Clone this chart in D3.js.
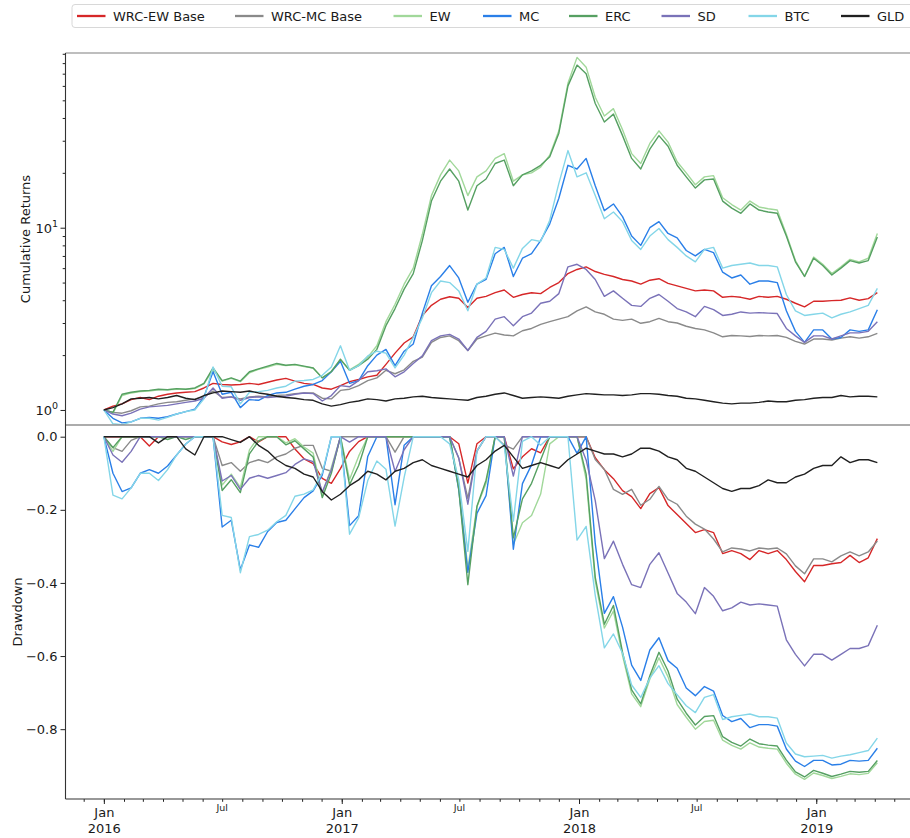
<!DOCTYPE html>
<html>
<head>
<meta charset="utf-8">
<script src="https://cdn.jsdelivr.net/npm/d3@7"></script>
<style>
body { margin: 0; background: #fff; }
text { font-family: "DejaVu Sans", sans-serif; fill: #1a1a1a; }
</style>
</head>
<body>
<svg id="chart"></svg>
<script>
// cumulative returns, one value every 14 days from 2016-01-01
var names = ["WRC-EW Base", "WRC-MC Base", "EW", "MC", "ERC", "SD", "BTC", "GLD"];
var colors = ["#d62728", "#8a8a8a", "#a1d89a", "#2a7fe8", "#56a062", "#7a72b8", "#84d6e8", "#202020"];

var wrcEw = [1.00,1.05,1.08,1.14,1.17,1.14,1.19,1.22,1.24,1.25,
	1.26,1.32,1.40,1.38,1.37,1.38,1.40,1.38,1.42,1.46,
	1.49,1.44,1.40,1.38,1.32,1.30,1.36,1.43,1.47,1.52,
	1.55,1.78,2.05,2.33,2.52,3.30,3.75,4.05,4.18,4.10,
	3.65,4.10,4.20,4.40,4.55,4.15,4.30,4.40,4.35,4.70,
	5.00,5.60,5.90,6.10,5.75,5.55,5.40,5.20,5.10,4.90,
	5.15,5.25,4.95,4.80,4.65,4.50,4.55,4.50,4.15,4.20,
	4.15,4.05,4.20,4.15,4.20,4.05,3.85,3.68,3.95,3.95,
	3.98,4.00,4.12,4.00,4.08,4.40];
var wrcMc = [1.00,0.97,0.96,0.99,1.04,1.05,1.08,1.10,1.11,1.13,
	1.15,1.18,1.27,1.17,1.18,1.15,1.18,1.19,1.18,1.20,
	1.21,1.23,1.24,1.24,1.16,1.15,1.28,1.30,1.36,1.45,
	1.50,1.65,1.58,1.66,1.85,1.95,2.35,2.50,2.55,2.40,
	2.12,2.45,2.55,2.64,2.58,2.55,2.72,2.80,2.95,3.05,
	3.15,3.25,3.50,3.68,3.45,3.35,3.15,3.10,3.15,2.99,
	3.05,3.18,3.05,3.00,2.88,2.80,2.75,2.65,2.52,2.56,
	2.55,2.53,2.56,2.55,2.56,2.50,2.38,2.30,2.45,2.45,
	2.42,2.48,2.52,2.48,2.52,2.63];
var ew = [1.00,0.96,1.20,1.24,1.26,1.27,1.29,1.29,1.30,1.30,
	1.31,1.39,1.66,1.44,1.49,1.43,1.60,1.67,1.72,1.78,
	1.75,1.77,1.73,1.70,1.50,1.63,1.88,1.66,1.78,1.95,
	2.25,3.05,3.80,4.90,6.00,9.20,15.0,19.5,23.5,20.5,
	15.0,19.0,20.5,24.0,25.5,18.0,19.5,20.0,21.5,25.0,
	34.0,62.0,86.0,76.0,52.0,41.0,45.0,34.5,25.5,22.5,
	29.0,34.0,29.5,23.0,20.0,17.2,19.0,19.3,14.6,13.4,
	12.5,14.0,13.0,12.7,12.5,9.2,6.6,5.4,6.9,6.3,
	5.6,6.1,6.7,6.5,6.8,9.3];
var mc = [1.00,0.90,0.85,0.86,0.90,0.91,0.90,0.92,0.95,0.98,
	1.01,1.18,1.62,1.22,1.25,1.03,1.14,1.13,1.20,1.24,
	1.25,1.30,1.35,1.38,1.45,1.62,1.85,1.40,1.45,1.75,
	2.00,2.15,1.75,2.10,2.30,3.40,4.80,5.40,6.20,5.30,
	3.90,4.90,5.20,7.20,7.80,5.40,6.80,7.20,8.50,10.5,
	14.5,22.0,21.0,24.0,17.0,12.4,13.5,11.5,9.0,8.0,
	10.0,10.8,9.3,8.8,7.5,7.0,7.6,7.3,5.7,5.3,
	5.5,4.9,5.1,5.1,5.0,3.5,2.7,2.35,2.75,2.75,
	2.45,2.5,2.75,2.7,2.75,3.55];
var erc = [1.00,0.97,1.22,1.25,1.27,1.28,1.30,1.29,1.31,1.30,
	1.32,1.40,1.70,1.45,1.50,1.44,1.62,1.68,1.74,1.80,
	1.76,1.78,1.74,1.70,1.50,1.62,1.90,1.65,1.75,1.90,
	2.15,2.90,3.60,4.60,5.60,8.50,14.0,18.0,21.0,18.0,
	12.5,17.0,18.5,22.5,23.5,17.0,19.5,20.5,22.0,24.5,
	33.0,60.0,78.0,70.0,48.0,38.0,42.0,32.0,24.0,21.0,
	27.0,32.0,28.0,22.0,19.0,16.5,18.3,18.5,14.0,12.8,
	12.0,13.5,12.5,12.2,12.0,9.0,6.5,5.4,6.8,6.2,
	5.5,6.0,6.6,6.4,6.6,8.9];
var sd = [1.00,0.95,0.93,0.96,1.01,1.04,1.05,1.06,1.08,1.10,
	1.12,1.16,1.32,1.16,1.18,1.13,1.17,1.18,1.17,1.18,
	1.19,1.22,1.24,1.23,1.12,1.20,1.36,1.34,1.45,1.62,
	1.64,1.68,1.52,1.62,1.80,1.98,2.40,2.55,2.60,2.45,
	2.12,2.50,2.70,3.15,3.25,2.90,3.25,3.40,3.85,3.95,
	4.35,6.10,6.30,5.90,5.20,4.20,4.50,4.10,3.75,3.70,
	4.10,4.30,3.95,3.60,3.45,3.25,3.70,3.55,3.30,3.35,
	3.45,3.40,3.42,3.40,3.38,2.80,2.55,2.35,2.55,2.55,
	2.45,2.55,2.65,2.65,2.70,3.05];
var btc = [1.00,0.84,0.83,0.86,0.90,0.90,0.88,0.91,0.95,0.98,
	1.00,1.15,1.72,1.35,1.34,1.08,1.25,1.26,1.28,1.32,
	1.35,1.44,1.45,1.47,1.55,1.72,2.25,1.65,1.75,1.98,
	2.10,2.05,1.70,2.00,2.50,3.20,4.40,5.10,5.00,4.50,
	3.50,4.90,5.30,7.80,7.60,6.00,7.70,8.60,8.40,11.0,
	17.5,26.5,19.0,20.0,15.0,11.2,12.2,10.8,8.5,7.6,
	9.0,9.9,8.6,7.8,7.0,6.5,7.6,7.8,6.0,6.2,
	6.3,6.4,6.2,6.2,6.1,4.3,3.5,3.3,3.35,3.4,
	3.2,3.35,3.45,3.6,3.75,4.65];
var gld = [1.00,1.03,1.08,1.15,1.16,1.17,1.15,1.17,1.20,1.16,
	1.14,1.20,1.24,1.27,1.26,1.25,1.27,1.24,1.22,1.19,
	1.17,1.16,1.14,1.13,1.08,1.05,1.07,1.10,1.12,1.15,
	1.14,1.12,1.15,1.16,1.18,1.19,1.17,1.16,1.15,1.14,
	1.13,1.17,1.19,1.22,1.24,1.20,1.16,1.17,1.18,1.17,
	1.16,1.19,1.21,1.23,1.22,1.21,1.21,1.20,1.21,1.23,
	1.23,1.22,1.20,1.19,1.16,1.15,1.13,1.11,1.09,1.08,
	1.09,1.09,1.10,1.12,1.11,1.11,1.13,1.14,1.16,1.17,
	1.17,1.20,1.18,1.19,1.19,1.18];

var series = [wrcEw, wrcMc, ew, mc, erc, sd, btc, gld];
var startDate = new Date(2016, 0, 1);
var dates = wrcEw.map(function(d, i) { return d3.timeDay.offset(startDate, 14 * i); });

// drawdown = value over running peak, minus one
var drawdowns = series.map(function(s) {
	var peak = -Infinity;
	return s.map(function(v) { peak = Math.max(peak, v); return v / peak - 1; });
});

var w = 910, h = 838;
var left = 65.5, right = 917, top1 = 53, mid = 425, bottom = 799;

var svg = d3.select("#chart").attr("width", w).attr("height", h);

var x = d3.scaleTime()
	.domain([new Date(2015, 10, 3), new Date(2019, 5, 5)])
	.range([left, right]);
var y1 = d3.scaleLog().domain([0.827, 90.9]).range([mid, top1]);
var y2 = d3.scaleLinear().domain([-0.991, 0.032]).range([bottom, mid]);

svg.append("clipPath").attr("id", "clipTop").append("rect")
	.attr("x", left).attr("y", top1).attr("width", right - left).attr("height", mid - top1);
svg.append("clipPath").attr("id", "clipBot").append("rect")
	.attr("x", left).attr("y", mid).attr("width", right - left).attr("height", bottom - mid);

var lineTop = d3.line().x(function(d, i) { return x(dates[i]); }).y(function(d) { return y1(d); });
var lineBot = d3.line().x(function(d, i) { return x(dates[i]); }).y(function(d) { return y2(d); });

svg.append("g").attr("clip-path", "url(#clipTop)")
	.selectAll("path").data(series).enter().append("path")
	.attr("d", lineTop)
	.attr("fill", "none")
	.attr("stroke", function(d, i) { return colors[i]; })
	.attr("stroke-width", 1.4)
	.attr("stroke-linejoin", "round");

svg.append("g").attr("clip-path", "url(#clipBot)")
	.selectAll("path").data(drawdowns).enter().append("path")
	.attr("d", lineBot)
	.attr("fill", "none")
	.attr("stroke", function(d, i) { return colors[i]; })
	.attr("stroke-width", 1.4)
	.attr("stroke-linejoin", "round");

// y axis, top (log)
var gy1 = svg.append("g").attr("transform", "translate(" + left + ",0)");
gy1.call(d3.axisLeft(y1).tickValues([2,3,4,5,6,7,8,9,20,30,40,50,60,70,80,90]).tickSize(2.8).tickFormat(""));
gy1.call(function(g) { g.select(".domain").remove(); });
var gy1m = svg.append("g").attr("transform", "translate(" + left + ",0)");
gy1m.call(d3.axisLeft(y1).tickValues([1, 10]).tickSize(5).tickFormat(""));
gy1m.select(".domain").remove();
gy1m.selectAll(".tick").each(function(d) {
	var t = d3.select(this).append("text")
		.attr("x", -7.5).attr("y", 4.5)
		.attr("text-anchor", "end")
		.style("font-size", "13px");
	t.append("tspan").text("10");
	t.append("tspan").attr("dy", -6).style("font-size", "9.5px").text(Math.round(Math.log10(d)));
});

// y axis, bottom
var gy2 = svg.append("g").attr("transform", "translate(" + left + ",0)");
gy2.call(d3.axisLeft(y2).tickValues([0, -0.2, -0.4, -0.6, -0.8]).tickSize(5).tickPadding(3)
	.tickFormat(function(d) { return d3.format(".1f")(d).replace("-", "\u2212"); }));
gy2.select(".domain").remove();
gy2.selectAll("text").style("font-size", "13px").attr("fill", "#1a1a1a");

// x axis
var gxMinor = svg.append("g").attr("transform", "translate(0," + bottom + ")");
gxMinor.call(d3.axisBottom(x).ticks(d3.timeMonth.every(1)).tickSize(2.8).tickFormat(""));
gxMinor.select(".domain").remove();

var years = [new Date(2016,0,1), new Date(2017,0,1), new Date(2018,0,1), new Date(2019,0,1)];
var julys = [new Date(2016,6,1), new Date(2017,6,1), new Date(2018,6,1)];
var gx = svg.append("g").attr("transform", "translate(0," + bottom + ")");
gx.call(d3.axisBottom(x).tickValues(years).tickSize(5).tickFormat(""));
gx.select(".domain").remove();
gx.selectAll(".tick").each(function(d) {
	var t = d3.select(this).append("text").attr("text-anchor", "middle").style("font-size", "13px");
	t.append("tspan").attr("x", 0).attr("y", 18).text(d3.timeFormat("%b")(d));
	t.append("tspan").attr("x", 0).attr("y", 34).text(d3.timeFormat("%Y")(d));
});
svg.append("g").selectAll("text").data(julys).enter().append("text")
	.attr("x", function(d) { return x(d); })
	.attr("y", bottom + 12)
	.attr("text-anchor", "middle")
	.style("font-size", "9.5px")
	.text(function(d) { return d3.timeFormat("%b")(d); });

svg.selectAll(".tick line").attr("stroke", "#222");

// spines
svg.append("line").attr("x1", left).attr("x2", w).attr("y1", top1).attr("y2", top1)
	.attr("stroke", "#a8a8a8").attr("stroke-width", 1.3);
svg.append("line").attr("x1", left).attr("x2", w).attr("y1", mid).attr("y2", mid)
	.attr("stroke", "#909090").attr("stroke-width", 1.3);
svg.append("line").attr("x1", left).attr("x2", w).attr("y1", bottom).attr("y2", bottom)
	.attr("stroke", "#333").attr("stroke-width", 1.1);
svg.append("line").attr("x1", left).attr("x2", left).attr("y1", top1).attr("y2", bottom)
	.attr("stroke", "#333").attr("stroke-width", 1.1);

// axis labels
svg.append("text").attr("transform", "translate(30," + ((top1 + mid) / 2) + ") rotate(-90)")
	.attr("text-anchor", "middle").style("font-size", "13px").text("Cumulative Returns");
svg.append("text").attr("transform", "translate(22," + ((mid + bottom) / 2) + ") rotate(-90)")
	.attr("text-anchor", "middle").style("font-size", "13px").text("Drawdown");

// legend
var legendX = [77, 235, 393.5, 483, 569, 661.5, 748.5, 841];
svg.append("rect").attr("x", 72).attr("y", 4.5).attr("width", 860).attr("height", 23)
	.attr("rx", 3).attr("fill", "#fff").attr("stroke", "#d8d8d8");
var items = svg.append("g").selectAll("g").data(names).enter().append("g")
	.attr("transform", function(d, i) { return "translate(" + legendX[i] + ",16)"; });
items.append("line").attr("x1", 0).attr("x2", 28.5).attr("y1", 0).attr("y2", 0)
	.attr("stroke", function(d, i) { return colors[i]; }).attr("stroke-width", 2.3);
items.append("text").attr("x", 36).attr("y", 4.8).style("font-size", "13px").text(function(d) { return d; });
</script>
</body>
</html>
